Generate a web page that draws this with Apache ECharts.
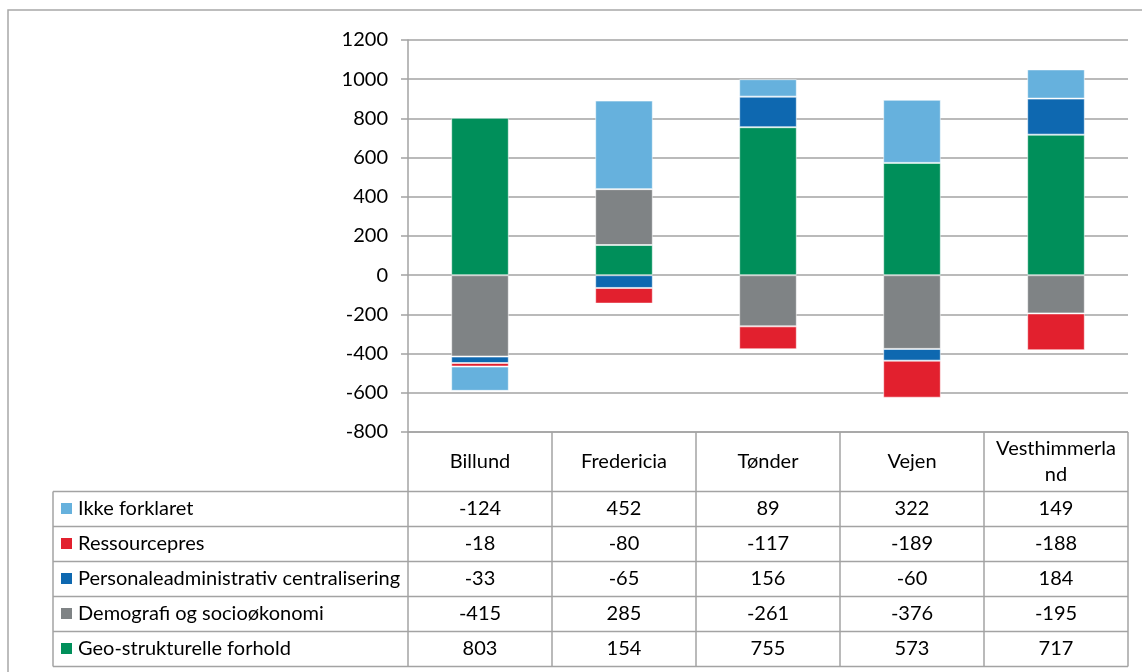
<!DOCTYPE html>
<html>
<head>
<meta charset="utf-8">
<script src="https://cdn.jsdelivr.net/npm/echarts@6/dist/echarts.min.js"></script>
<style>
  html, body { margin: 0; padding: 0; background: #fff; }
  #chart { width: 1142px; height: 672px; }
</style>
</head>
<body>
<div id="chart"></div>
<script>
// Kommuner og forklaringsfaktorer
const categories = ['Billund', 'Fredericia', 'Tønder', 'Vejen', 'Vesthimmerland'];
const geoStruktur = [803, 154, 755, 573, 717];
const demografi = [-415, 285, -261, -376, -195];
const personaleadm = [-33, -65, 156, -60, 184];
const ressourcepres = [-18, -80, -117, -189, -188];
const ikkeForklaret = [-124, 452, 89, 322, 149];
const yTicks = { min: -800, max: 1200, step: 200 };

// stacking order (bottom up) and the table's row order (top down)
const seriesDefs = [
  { name: 'Geo-strukturelle forhold', data: geoStruktur, color: '#008F5A' },
  { name: 'Demografi og socioøkonomi', data: demografi, color: '#7F8385' },
  { name: 'Personaleadministrativ centralisering', data: personaleadm, color: '#0E68B0' },
  { name: 'Ressourcepres', data: ressourcepres, color: '#E2202E' },
  { name: 'Ikke forklaret', data: ikkeForklaret, color: '#66B1DD' }
];
const tableRows = seriesDefs.slice().reverse();

const FONT = 'Lato';
const FS = 20;
const LINE = '#A3A3A3';

const chart = echarts.init(document.getElementById('chart'), null, { renderer: 'canvas' });

chart.setOption({
  animation: false,
  backgroundColor: '#fff',
  grid: { left: 408, top: 40, width: 720, height: 392 },
  xAxis: {
    type: 'category',
    data: categories,
    axisLine: { show: false },
    axisTick: { show: false },
    axisLabel: { show: false }
  },
  yAxis: {
    type: 'value',
    min: yTicks.min,
    max: yTicks.max,
    interval: yTicks.step,
    axisLine: { show: true, lineStyle: { color: LINE, width: 1.5 } },
    axisTick: { show: true, length: 7, lineStyle: { color: LINE, width: 1.5 } },
    splitLine: { show: true, lineStyle: { color: LINE, width: 1.5 } },
    axisLabel: {
      color: '#000', fontFamily: FONT, fontSize: FS, margin: 20,
      formatter: v => String(v)
    }
  },
  series: seriesDefs.map(s => ({
    name: s.name,
    type: 'bar',
    stack: 'total',
    barWidth: '40%',
    data: s.data,
    itemStyle: { color: s.color, borderColor: 'rgba(255,255,255,0.55)', borderWidth: 1 }
  }))
});

// Excel-style wrapping of long header names
function wrap(s, n) {
  const parts = [];
  for (let i = 0; i < s.length; i += n) parts.push(s.slice(i, i + n));
  return parts.join('\n');
}

// data table under the plot
const xs = categories.map((_, i) => chart.convertToPixel({ xAxisIndex: 0 }, i));
const step = xs[1] - xs[0];
const tableTop = chart.convertToPixel({ yAxisIndex: 0 }, yTicks.min);
const headerH = 59.5;
const rowH = 35;
const legendLeft = 53;
const colLeft = xs[0] - step / 2;
const colRight = xs[xs.length - 1] + step / 2;
const bodyTop = tableTop + headerH;
const tableBottom = bodyTop + rowH * tableRows.length;

const g = [];
const lineStyle = { stroke: LINE, lineWidth: 1.5 };

// outer frame
g.push({ type: 'rect', shape: { x: 8, y: 10, width: 1200, height: 700 }, style: { fill: 'none', stroke: '#A8A8A8', lineWidth: 1.5 }, z: 1 });

// vertical lines
for (let i = 0; i <= categories.length; i++) {
  const x = colLeft + i * step;
  g.push({ type: 'line', shape: { x1: x, y1: tableTop, x2: x, y2: tableBottom }, style: lineStyle, z: 5 });
}
g.push({ type: 'line', shape: { x1: legendLeft, y1: bodyTop, x2: legendLeft, y2: tableBottom }, style: lineStyle, z: 5 });

// horizontal lines
g.push({ type: 'line', shape: { x1: colLeft, y1: tableTop, x2: colRight, y2: tableTop }, style: lineStyle, z: 5 });
for (let r = 0; r <= tableRows.length; r++) {
  const y = bodyTop + r * rowH;
  g.push({ type: 'line', shape: { x1: legendLeft, y1: y, x2: colRight, y2: y }, style: lineStyle, z: 5 });
}

// header: category names
categories.forEach((c, i) => {
  g.push({
    type: 'text', z: 6,
    style: {
      x: xs[i], y: tableTop + headerH / 2, text: wrap(c, 12),
      fontFamily: FONT, fontSize: FS, fill: '#000', lineHeight: 26,
      align: 'center', verticalAlign: 'middle'
    }
  });
});

// rows: legend key + values
tableRows.forEach((s, r) => {
  const cy = bodyTop + r * rowH + rowH / 2;
  g.push({ type: 'rect', z: 6, shape: { x: 61, y: cy - 6, width: 11, height: 11 }, style: { fill: s.color } });
  g.push({
    type: 'text', z: 6,
    style: { x: 78, y: cy, text: s.name, fontFamily: FONT, fontSize: FS, fill: '#000', align: 'left', verticalAlign: 'middle' }
  });
  s.data.forEach((v, i) => {
    g.push({
      type: 'text', z: 6,
      style: { x: xs[i], y: cy, text: String(v), fontFamily: FONT, fontSize: FS, fill: '#000', align: 'center', verticalAlign: 'middle' }
    });
  });
});

chart.setOption({ graphic: g });
</script>
</body>
</html>
